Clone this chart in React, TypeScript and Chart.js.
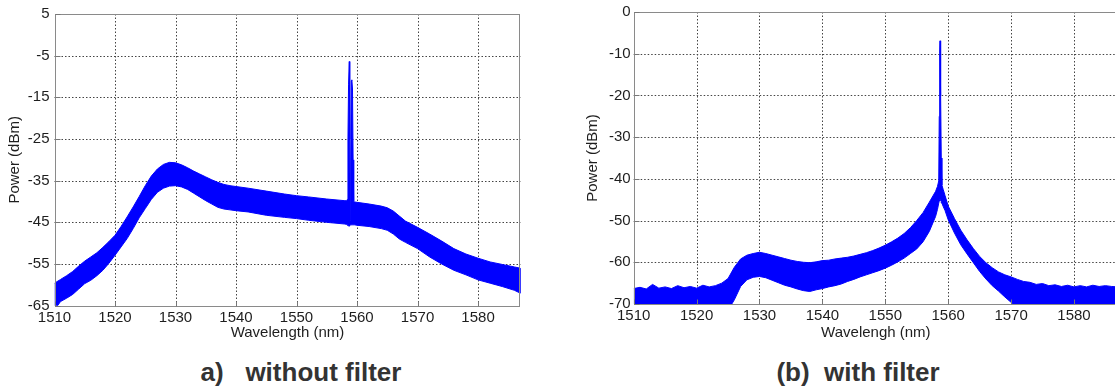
import React, { useEffect, useRef } from "react";
import { Chart, registerables } from "chart.js";

Chart.register(...registerables);

// ---------- data ----------
const X_TICKS = [1510, 1520, 1530, 1540, 1550, 1560, 1570, 1580];
const LEFT_Y_TICKS = [5, -5, -15, -25, -35, -45, -55, -65];
const RIGHT_Y_TICKS = [0, -10, -20, -30, -40, -50, -60, -70];

// (a) without filter: wavelength grid (nm), upper and lower envelope of the noisy trace (dBm)
const LEFT_WL = [
  1510, 1511, 1512, 1513, 1514, 1515, 1516, 1517, 1518, 1519, 1520, 1521, 1522, 1523, 1524, 1525,
  1526, 1527, 1528, 1529, 1530, 1531, 1532, 1533, 1534, 1535, 1536, 1537, 1538, 1539, 1540, 1542,
  1545, 1548, 1550, 1552, 1555, 1558, 1558.3, 1558.4, 1558.5, 1558.6, 1558.72, 1558.78, 1558.82,
  1558.88, 1558.95, 1559.05, 1559.15, 1559.25, 1559.35, 1559.45, 1559.6, 1560, 1562, 1564, 1565,
  1566, 1567, 1568, 1570, 1572, 1574, 1576, 1578, 1580, 1582, 1584, 1586, 1587,
];
const LEFT_UPPER = [
  -59.6, -58.7, -57.8, -56.8, -55.5, -54.3, -53.3, -52.3, -51, -49.6, -48.1, -46, -43.7, -41.3, -38.8, -36.2,
  -33.9, -32.2, -31.1, -30.6, -30.7, -31.2, -31.9, -32.7, -33.4, -34.1, -34.8, -35.4, -35.9, -36.2, -36.4, -36.8,
  -37.5, -38.2, -38.6, -38.9, -39.4, -39.8, -39.8, -39.5, -25, -12, -6.4, -8, -25,
  -44.5, -31, -11, -10.8, -13, -30, -40, -40.1, -40.2, -40.6, -41.1, -41.5,
  -42.3, -43.5, -44.7, -46.2, -47.8, -49.5, -51.3, -52.6, -53.6, -54.5, -55.1, -55.7, -56,
];
const LEFT_LOWER = [
  -66, -64, -63.2, -62.3, -61, -59.7, -58.9, -57.8, -56.5, -54.8, -52.9, -50.9, -48.9, -46.5, -43.9, -41.7,
  -39.5, -37.8, -36.8, -36.3, -36.2, -36.5, -37.1, -38, -38.9, -39.8, -40.6, -41.4, -41.8, -42, -42.2, -42.5,
  -43.3, -43.8, -44.1, -44.5, -45, -45.4, -45.5, -45.6, -45.7, -45.9, -45.9, -45.8, -45.7,
  -45.6, -45.6, -45.6, -45.6, -45.6, -45.6, -45.6, -45.6, -45.7, -46, -46.5, -46.9,
  -47.8, -49, -49.8, -51.3, -53.3, -55, -56.5, -57.6, -58.8, -59.6, -60.4, -61.3, -62,
];

// (b) with filter
const RIGHT_WL = [
  1510, 1511, 1512, 1513, 1514, 1515, 1516, 1517, 1518, 1519, 1520, 1521, 1522, 1523, 1524, 1525,
  1526, 1527, 1528, 1529, 1530, 1531, 1532, 1533, 1534, 1535, 1536, 1537, 1538, 1539, 1540, 1541,
  1542, 1543, 1544, 1545, 1546, 1547, 1548, 1549, 1550, 1551, 1552, 1553, 1554, 1555, 1556, 1557,
  1558, 1558.3, 1558.5, 1558.58, 1558.65, 1558.7, 1558.75, 1558.8, 1558.85, 1558.9, 1559, 1559.2,
  1559.5, 1560, 1561, 1562, 1563, 1564, 1565, 1566, 1567, 1568, 1569, 1570, 1571, 1572, 1573, 1574,
  1575, 1576, 1577, 1578, 1579, 1580, 1581, 1582, 1583, 1584, 1585, 1586, 1587,
];
const RIGHT_UPPER = [
  -66.3, -66.0, -66.4, -65.3, -66.2, -65.9, -66.3, -65.6, -66.1, -65.8, -66.2, -65.5, -65.9, -65.6, -65.0, -63.9,
  -61.2, -59.2, -58.3, -57.9, -57.6, -57.9, -58.3, -58.7, -59.1, -59.5, -59.8, -60, -60.1, -59.9, -59.6, -59.5,
  -59.2, -59, -58.8, -58.5, -58.1, -57.7, -57.2, -56.6, -55.9, -55.1, -54.2, -53.1, -51.7, -50, -48.1, -45.6,
  -43, -41.8, -40.5, -25, -10, -6.9, -8, -9, -20, -35, -41.5, -42.5,
  -44, -46.5, -49.5, -52.3, -54.6, -56.7, -58.6, -60.1, -61.3, -62.3, -63, -63.5, -64.1, -64.6, -64.8, -65.3,
  -65.1, -65.6, -65.4, -65.8, -65.5, -65.9, -65.6, -65.9, -65.5, -65.8, -65.6, -65.8, -65.9,
];
const RIGHT_LOWER = [
  -72, -72, -72, -72, -72, -72, -72, -72, -72, -72, -72, -72, -72, -72, -72, -71.5,
  -69, -65.8, -64.2, -63.6, -63.4, -63.7, -64.3, -64.9, -65.5, -65.9, -66.4, -66.8, -67, -66.6, -66.3, -65.9,
  -65.6, -65.2, -64.6, -64.1, -63.5, -63, -62.5, -62, -61.4, -60.7, -59.9, -59, -57.9, -56.8, -55.1, -52.6,
  -49, -47.3, -45.8, -45.3, -45, -45, -45, -45, -45.2, -45.4, -45.8, -46.6,
  -47.6, -49.8, -53, -55.8, -58, -60.1, -62.2, -64, -65.6, -66.9, -68.3, -69.6, -71, -72, -72, -72,
  -72, -72, -72, -72, -72, -72, -72, -72, -72, -72, -72, -72, -72,
];

// ---------- styling ----------
const BLUE = "#0000ff";
const FONT = "'Liberation Sans', Arial, Helvetica, sans-serif";
const TEXT = "#1e1e1e";

const framePlugin = {
  id: "matlabFrame",
  beforeDatasetsDraw(chart: any) {
    const { ctx, chartArea: a, scales } = chart;
    ctx.save();
    ctx.strokeStyle = "#444";
    ctx.lineWidth = 1;
    ctx.setLineDash([1.5, 2]);
    for (const t of scales.x.ticks) {
      const x = Math.round(scales.x.getPixelForValue(t.value)) + 0.5;
      if (x <= a.left + 1.5 || x >= a.right - 1.5) continue;
      ctx.beginPath();
      ctx.moveTo(x, a.top);
      ctx.lineTo(x, a.bottom);
      ctx.stroke();
    }
    for (const t of scales.y.ticks) {
      const y = Math.round(scales.y.getPixelForValue(t.value)) + 0.5;
      if (y <= a.top + 1.5 || y >= a.bottom - 1.5) continue;
      ctx.beginPath();
      ctx.moveTo(a.left, y);
      ctx.lineTo(a.right, y);
      ctx.stroke();
    }
    ctx.restore();
  },
  afterDatasetsDraw(chart: any) {
    const { ctx, chartArea: a, scales } = chart;
    ctx.save();
    ctx.setLineDash([]);
    ctx.strokeStyle = "#8a8a8a";
    ctx.lineWidth = 1;
    const l = Math.round(a.left) + 0.5;
    const r = Math.round(a.right) - 0.5;
    const t = Math.round(a.top) + 0.5;
    const b = Math.round(a.bottom) + 0.5;
    ctx.strokeRect(l, t, r - l, b - t);
    ctx.strokeStyle = "#777";
    for (const tk of scales.x.ticks) {
      const x = Math.round(scales.x.getPixelForValue(tk.value)) + 0.5;
      ctx.beginPath();
      ctx.moveTo(x, b);
      ctx.lineTo(x, b - 5);
      ctx.stroke();
    }
    for (const tk of scales.y.ticks) {
      const y = Math.round(scales.y.getPixelForValue(tk.value)) + 0.5;
      ctx.beginPath();
      ctx.moveTo(l, y);
      ctx.lineTo(l + 5, y);
      ctx.stroke();
    }
    ctx.restore();
  },
};

type Dims = {
  yAxisW: number;
  xAxisH: number;
  padRight: number;
  yTitlePad: number;
  yTickPad: number;
};

function makeConfig(
  wl: number[],
  upper: number[],
  lower: number[],
  yTicks: number[],
  xTitle: string,
  dims: Dims
): any {
  const yMin = Math.min(...yTicks);
  const yMax = Math.max(...yTicks);
  // closed outline of the noise band: upper envelope forward, lower envelope back
  const outline = [
    ...wl.map((x, i) => ({ x, y: upper[i] })),
    ...wl.map((x, i) => ({ x, y: lower[i] })).reverse(),
  ];
  return {
    type: "line",
    data: {
      datasets: [
        {
          data: outline,
          borderColor: BLUE,
          backgroundColor: BLUE,
          borderWidth: 1,
          pointRadius: 0,
          tension: 0,
          fill: "shape",
        },
      ],
    },
    options: {
      animation: false,
      responsive: false,
      maintainAspectRatio: false,
      events: [],
      layout: { padding: { left: 0, right: dims.padRight, top: 12, bottom: 0 } },
      plugins: {
        legend: { display: false },
        tooltip: { enabled: false },
        title: { display: false },
      },
      scales: {
        x: {
          type: "linear",
          min: X_TICKS[0],
          max: 1587,
          afterBuildTicks: (s: any) => {
            s.ticks = X_TICKS.map((v) => ({ value: v }));
          },
          afterFit: (s: any) => {
            s.height = dims.xAxisH;
          },
          grid: { display: false, drawTicks: false },
          border: { display: false },
          ticks: {
            autoSkip: false,
            maxRotation: 0,
            padding: 3,
            color: TEXT,
            font: { family: FONT, size: 15 },
            callback: (v: any) => String(v),
          },
          title: {
            display: true,
            text: xTitle,
            color: TEXT,
            font: { family: FONT, size: 15 },
            padding: { top: 0, bottom: 3 },
          },
        },
        y: {
          type: "linear",
          min: yMin,
          max: yMax,
          afterBuildTicks: (s: any) => {
            s.ticks = yTicks.map((v) => ({ value: v }));
          },
          afterFit: (s: any) => {
            s.width = dims.yAxisW;
          },
          grid: { display: false, drawTicks: false },
          border: { display: false },
          ticks: {
            autoSkip: false,
            padding: dims.yTickPad,
            color: TEXT,
            font: { family: FONT, size: 15 },
            callback: (v: any) => String(v),
          },
          title: {
            display: true,
            text: "Power (dBm)",
            color: TEXT,
            font: { family: FONT, size: 15 },
            padding: { top: dims.yTitlePad, bottom: 0 },
          },
        },
      },
    },
    plugins: [framePlugin],
  };
}

function Panel(props: {
  left: number;
  width: number;
  wl: number[];
  upper: number[];
  lower: number[];
  yTicks: number[];
  xTitle: string;
  dims: Dims;
}) {
  const ref = useRef<HTMLCanvasElement | null>(null);
  useEffect(() => {
    if (!ref.current) return;
    const chart = new Chart(
      ref.current,
      makeConfig(props.wl, props.upper, props.lower, props.yTicks, props.xTitle, props.dims)
    );
    return () => chart.destroy();
  }, []);
  return (
    <canvas
      ref={ref}
      width={props.width}
      height={345}
      style={{ position: "absolute", left: props.left, top: 0, width: props.width, height: 345, display: "block" }}
    />
  );
}

const captionStyle: React.CSSProperties = {
  position: "absolute",
  top: 357,
  width: 400,
  height: 30,
  lineHeight: "30px",
  textAlign: "center",
  whiteSpace: "pre",
  fontFamily: FONT,
  fontWeight: "bold",
  fontSize: 26,
  color: "#333",
};

export default function App() {
  return (
    <div
      style={{
        position: "absolute",
        left: 0,
        top: 0,
        width: 1115,
        height: 387,
        overflow: "hidden",
        background: "#fff",
      }}
    >
      <Panel
        left={0}
        width={560}
        wl={LEFT_WL}
        upper={LEFT_UPPER}
        lower={LEFT_LOWER}
        yTicks={LEFT_Y_TICKS}
        xTitle="Wavelength (nm)"
        dims={{ yAxisW: 54.5, xAxisH: 39.3, padRight: 39.6, yTitlePad: 6, yTickPad: 5 }}
      />
      <Panel
        left={560}
        width={558}
        wl={RIGHT_WL}
        upper={RIGHT_UPPER}
        lower={RIGHT_LOWER}
        yTicks={RIGHT_Y_TICKS}
        xTitle="Wavelengh (nm)"
        dims={{ yAxisW: 73.7, xAxisH: 41, padRight: 0, yTitlePad: 24, yTickPad: 3 }}
      />
      <div style={{ ...captionStyle, left: 301 - 200 }}>{"a)   without filter"}</div>
      <div style={{ ...captionStyle, left: 858 - 200 }}>{"(b)  with filter"}</div>
    </div>
  );
}
